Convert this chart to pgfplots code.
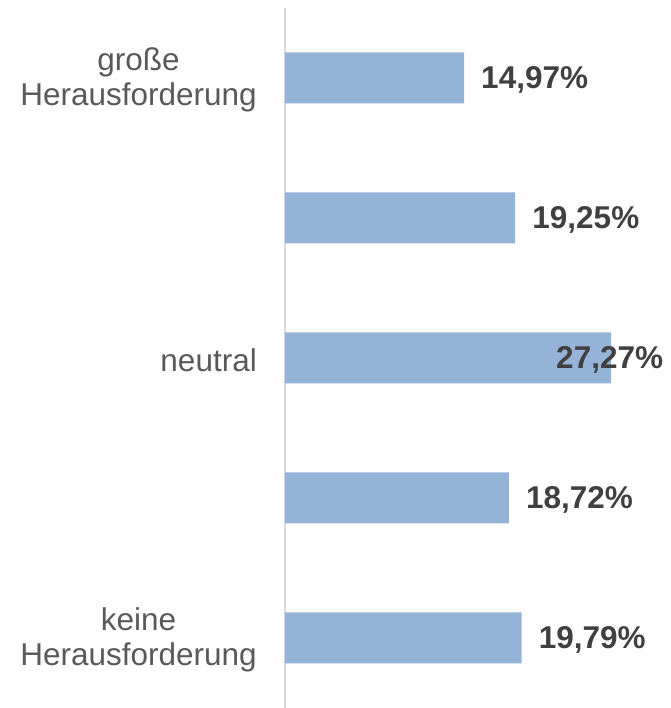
\documentclass[border=0pt]{standalone}
\usepackage{fontspec}
\setmainfont{Liberation Sans}
\usepackage{pgfplots}
\pgfplotsset{compat=1.18}
\definecolor{barblue}{HTML}{95B3D7}
\definecolor{ticktext}{HTML}{595959}
\definecolor{labeltext}{HTML}{404040}
\definecolor{axisgray}{HTML}{D9D9D9}
\begin{document}
\begin{tikzpicture}
\path[use as bounding box] (-285pt,0pt) rectangle (385pt,708pt);
\begin{axis}[
  at={(0pt,0pt)}, anchor=south west,
  scale only axis,
  width=385pt, height=700pt,
  xmin=0, xmax=32.19,
  ymin=0.5, ymax=5.5,
  axis x line=none,
  axis y line=left,
  y axis line style={draw=axisgray, line width=1.5pt, -},
  ytick={1,3,5},
  yticklabels={{keine\\Herausforderung},{neutral},{große\\Herausforderung}},
  major tick length=0pt,
  yticklabel style={align=center, text=ticktext, font=\fontsize{31.5}{35}\selectfont, inner sep=0pt, xshift=-28pt, yshift=-2pt},
  clip=false,
]
\addplot[xbar, bar width=51pt, fill=barblue, draw=none] coordinates {
  (14.97,5) (19.25,4) (27.27,3) (18.72,2) (19.79,1)
};
\addplot[draw=none, mark=none, nodes near coords={\pgfplotspointmeta}, point meta=explicit symbolic,
  every node near coord/.style={anchor=west, inner sep=0pt, xshift=17pt, yshift=-2pt, text=labeltext, font=\fontsize{31.5}{35}\selectfont\bfseries}]
coordinates {
  (14.97,5) [14,97\%]
  (19.25,4) [19,25\%]
  (21.24,3) [27,27\%]
  (18.72,2) [18,72\%]
  (19.79,1) [19,79\%]
};
\end{axis}
\end{tikzpicture}
\end{document}
